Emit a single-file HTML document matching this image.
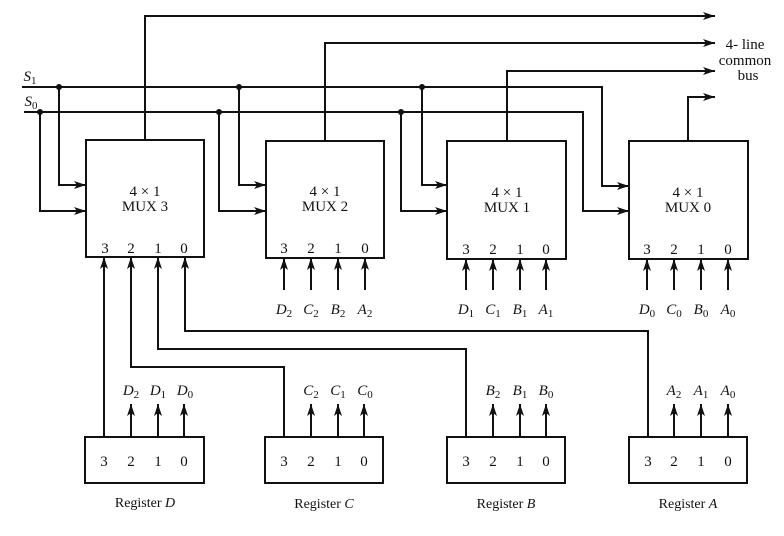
<!DOCTYPE html>
<html><head><style>
html,body{margin:0;padding:0;background:#fff;}
svg{display:block;}
text{font-family:"Liberation Serif",serif;fill:#111;}
</style></head><body>
<svg width="784" height="536" viewBox="0 0 784 536" xmlns="http://www.w3.org/2000/svg">
<defs>
<marker id="a" markerWidth="12" markerHeight="8" refX="12" refY="4" orient="auto" markerUnits="userSpaceOnUse">
<path d="M0,0 L12,4 L0,8 L3,4 Z" fill="#111"/></marker>
</defs>
<g stroke="#111" stroke-width="2" fill="none">
<rect x="86" y="140" width="118" height="117"/>
<rect x="266" y="141" width="118" height="117"/>
<rect x="447" y="141" width="119" height="118"/>
<rect x="629" y="141" width="119" height="118"/>
<polyline points="22,87 602,87 602,186 629,186" marker-end="url(#a)"/>
<polyline points="24,112 583,112 583,211 629,211" marker-end="url(#a)"/>
<polyline points="59,87 59,185 86,185" marker-end="url(#a)"/>
<polyline points="40,112 40,211 86,211" marker-end="url(#a)"/>
<polyline points="239,87 239,185 266,185" marker-end="url(#a)"/>
<polyline points="219,112 219,211 266,211" marker-end="url(#a)"/>
<polyline points="422,87 422,185 447,185" marker-end="url(#a)"/>
<polyline points="401,112 401,211 447,211" marker-end="url(#a)"/>
<polyline points="145,140 145,16 715,16" marker-end="url(#a)"/>
<polyline points="325,141 325,43 715,43" marker-end="url(#a)"/>
<polyline points="507,141 507,71 715,71" marker-end="url(#a)"/>
<polyline points="688,141 688,97 715,97" marker-end="url(#a)"/>
<polyline points="104,437 104,257" marker-end="url(#a)"/>
<polyline points="284,437 284,367 131,367 131,257" marker-end="url(#a)"/>
<polyline points="466,437 466,349 158,349 158,257" marker-end="url(#a)"/>
<polyline points="648,437 648,331 185,331 185,257" marker-end="url(#a)"/>
<line x1="284" y1="290" x2="284" y2="258" marker-end="url(#a)"/>
<line x1="311" y1="290" x2="311" y2="258" marker-end="url(#a)"/>
<line x1="338" y1="290" x2="338" y2="258" marker-end="url(#a)"/>
<line x1="365" y1="290" x2="365" y2="258" marker-end="url(#a)"/>
<line x1="466" y1="290" x2="466" y2="259" marker-end="url(#a)"/>
<line x1="493" y1="290" x2="493" y2="259" marker-end="url(#a)"/>
<line x1="520" y1="290" x2="520" y2="259" marker-end="url(#a)"/>
<line x1="546" y1="290" x2="546" y2="259" marker-end="url(#a)"/>
<line x1="647" y1="290" x2="647" y2="259" marker-end="url(#a)"/>
<line x1="674" y1="290" x2="674" y2="259" marker-end="url(#a)"/>
<line x1="701" y1="290" x2="701" y2="259" marker-end="url(#a)"/>
<line x1="728" y1="290" x2="728" y2="259" marker-end="url(#a)"/>
<rect x="85" y="437" width="119" height="46"/>
<rect x="265" y="437" width="118" height="46"/>
<rect x="447" y="437" width="118" height="46"/>
<rect x="629" y="437" width="118" height="46"/>
<line x1="131" y1="437" x2="131" y2="404" marker-end="url(#a)"/>
<line x1="158" y1="437" x2="158" y2="404" marker-end="url(#a)"/>
<line x1="184" y1="437" x2="184" y2="404" marker-end="url(#a)"/>
<line x1="311" y1="437" x2="311" y2="404" marker-end="url(#a)"/>
<line x1="338" y1="437" x2="338" y2="404" marker-end="url(#a)"/>
<line x1="364" y1="437" x2="364" y2="404" marker-end="url(#a)"/>
<line x1="493" y1="437" x2="493" y2="404" marker-end="url(#a)"/>
<line x1="520" y1="437" x2="520" y2="404" marker-end="url(#a)"/>
<line x1="546" y1="437" x2="546" y2="404" marker-end="url(#a)"/>
<line x1="674" y1="437" x2="674" y2="404" marker-end="url(#a)"/>
<line x1="701" y1="437" x2="701" y2="404" marker-end="url(#a)"/>
<line x1="728" y1="437" x2="728" y2="404" marker-end="url(#a)"/>
</g>
<g fill="#111">
<circle cx="59" cy="87" r="3"/><circle cx="40" cy="112" r="3"/>
<circle cx="239" cy="87" r="3"/><circle cx="219" cy="112" r="3"/>
<circle cx="422" cy="87" r="3"/><circle cx="401" cy="112" r="3"/>
</g>
<g font-size="15" text-anchor="middle">
<text x="145" y="196">4 × 1</text><text x="145" y="211">MUX 3</text>
<text x="325" y="196">4 × 1</text><text x="325" y="211">MUX 2</text>
<text x="507" y="197">4 × 1</text><text x="507" y="212">MUX 1</text>
<text x="688" y="197">4 × 1</text><text x="688" y="212">MUX 0</text>
<text x="105" y="253">3</text><text x="131" y="253">2</text><text x="158" y="253">1</text><text x="184" y="253">0</text>
<text x="284" y="253">3</text><text x="311" y="253">2</text><text x="338" y="253">1</text><text x="365" y="253">0</text>
<text x="466" y="254">3</text><text x="493" y="254">2</text><text x="520" y="254">1</text><text x="546" y="254">0</text>
<text x="647" y="254">3</text><text x="674" y="254">2</text><text x="701" y="254">1</text><text x="728" y="254">0</text>
<text x="104" y="466">3</text><text x="131" y="466">2</text><text x="158" y="466">1</text><text x="184" y="466">0</text>
<text x="284" y="466">3</text><text x="311" y="466">2</text><text x="338" y="466">1</text><text x="364" y="466">0</text>
<text x="466" y="466">3</text><text x="493" y="466">2</text><text x="520" y="466">1</text><text x="546" y="466">0</text>
<text x="648" y="466">3</text><text x="674" y="466">2</text><text x="701" y="466">1</text><text x="728" y="466">0</text>
<text x="745" y="49">4- line</text><text x="745" y="65">common</text><text x="748" y="80">bus</text>
<g font-size="14">
<text x="145" y="507">Register <tspan font-style="italic">D</tspan></text>
<text x="324" y="508">Register <tspan font-style="italic">C</tspan></text>
<text x="506" y="508">Register <tspan font-style="italic">B</tspan></text>
<text x="688" y="508">Register <tspan font-style="italic">A</tspan></text>
</g>
</g>
<g font-size="15" font-style="italic" text-anchor="middle">
<text x="30" y="81">S<tspan font-size="11" font-style="normal" dy="3">1</tspan></text>
<text x="31" y="106">S<tspan font-size="11" font-style="normal" dy="3">0</tspan></text>
<text x="284" y="314">D<tspan font-size="11" font-style="normal" dy="3">2</tspan></text>
<text x="311" y="314">C<tspan font-size="11" font-style="normal" dy="3">2</tspan></text>
<text x="338" y="314">B<tspan font-size="11" font-style="normal" dy="3">2</tspan></text>
<text x="365" y="314">A<tspan font-size="11" font-style="normal" dy="3">2</tspan></text>
<text x="466" y="314">D<tspan font-size="11" font-style="normal" dy="3">1</tspan></text>
<text x="493" y="314">C<tspan font-size="11" font-style="normal" dy="3">1</tspan></text>
<text x="520" y="314">B<tspan font-size="11" font-style="normal" dy="3">1</tspan></text>
<text x="546" y="314">A<tspan font-size="11" font-style="normal" dy="3">1</tspan></text>
<text x="647" y="314">D<tspan font-size="11" font-style="normal" dy="3">0</tspan></text>
<text x="674" y="314">C<tspan font-size="11" font-style="normal" dy="3">0</tspan></text>
<text x="701" y="314">B<tspan font-size="11" font-style="normal" dy="3">0</tspan></text>
<text x="728" y="314">A<tspan font-size="11" font-style="normal" dy="3">0</tspan></text>
<text x="131" y="395">D<tspan font-size="11" font-style="normal" dy="3">2</tspan></text>
<text x="158" y="395">D<tspan font-size="11" font-style="normal" dy="3">1</tspan></text>
<text x="185" y="395">D<tspan font-size="11" font-style="normal" dy="3">0</tspan></text>
<text x="311" y="395">C<tspan font-size="11" font-style="normal" dy="3">2</tspan></text>
<text x="338" y="395">C<tspan font-size="11" font-style="normal" dy="3">1</tspan></text>
<text x="365" y="395">C<tspan font-size="11" font-style="normal" dy="3">0</tspan></text>
<text x="493" y="395">B<tspan font-size="11" font-style="normal" dy="3">2</tspan></text>
<text x="520" y="395">B<tspan font-size="11" font-style="normal" dy="3">1</tspan></text>
<text x="546" y="395">B<tspan font-size="11" font-style="normal" dy="3">0</tspan></text>
<text x="674" y="395">A<tspan font-size="11" font-style="normal" dy="3">2</tspan></text>
<text x="701" y="395">A<tspan font-size="11" font-style="normal" dy="3">1</tspan></text>
<text x="728" y="395">A<tspan font-size="11" font-style="normal" dy="3">0</tspan></text>
</g>
</svg>
</body></html>
